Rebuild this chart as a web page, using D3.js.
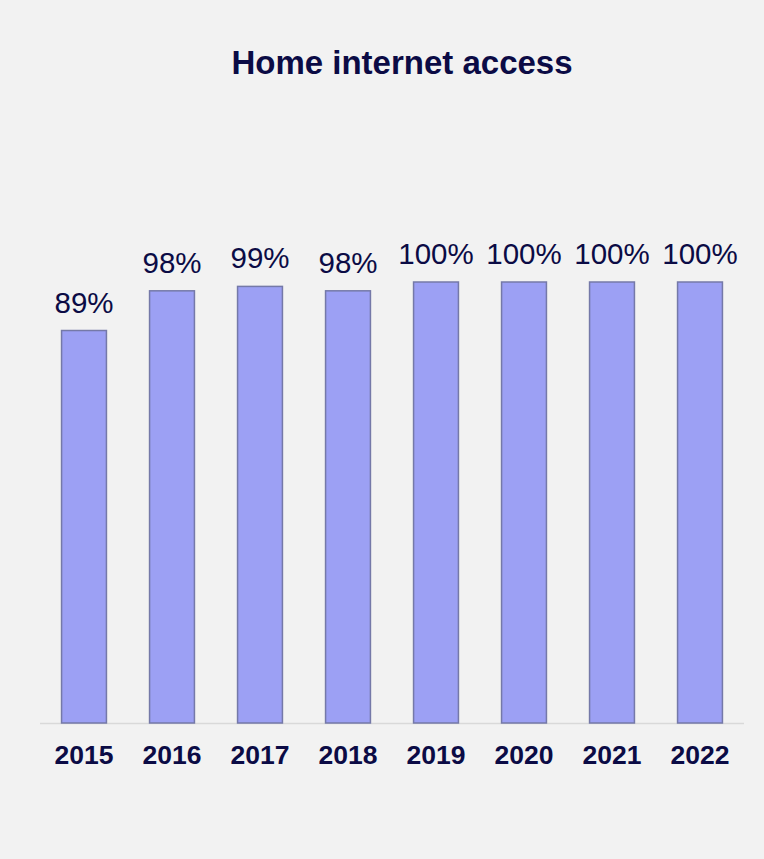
<!DOCTYPE html>
<html lang="en">
<head>
	<title>Home internet access</title>
	<script src="https://d3js.org/d3.v7.min.js" charset="utf-8"></script>
	<style>
		body { margin: 0; background: #f2f2f2; }
	</style>
</head>
<body>
	<script>
		// Chart data
		var years = ["2015", "2016", "2017", "2018", "2019", "2020", "2021", "2022"];
		var values = [89, 98, 99, 98, 100, 100, 100, 100];

		var w = 764;
		var h = 859;
		var textColor = "#0b0b45";

		var svg = d3.select("body")
			.append("svg")
			.attr("width", w)
			.attr("height", h)
			.style("display", "block")
			;

		svg.append("rect")
			.attr("width", w)
			.attr("height", h)
			.attr("fill", "#f2f2f2");

		// Scales
		var xScale = d3.scaleBand()
			.domain(years)
			.range([40, 744])
			.paddingInner(0.49)
			.paddingOuter(0.245)
			;

		var yScale = d3.scaleLinear()
			.domain([0, 100])
			.range([723, 282])
			;

		// Baseline
		svg.append("line")
			.attr("x1", 40)
			.attr("x2", 744)
			.attr("y1", yScale(0) + 0.5)
			.attr("y2", yScale(0) + 0.5)
			.attr("stroke", "#d9d9d9")
			.attr("stroke-width", 1.5);

		// Bars
		svg.selectAll("rect.bar")
			.data(values)
			.enter()
			.append("rect")
			.attr("class", "bar")
			.attr("x", function(d, i){ return xScale(years[i]); })
			.attr("y", function(d){ return yScale(d); })
			.attr("width", xScale.bandwidth())
			.attr("height", function(d){ return yScale(0) - yScale(d); })
			.attr("fill", "#9ca0f4")
			.attr("stroke", "#7579a8")
			.attr("stroke-width", 1.5)
			;

		// Value labels
		svg.selectAll("text.value")
			.data(values)
			.enter()
			.append("text")
			.attr("class", "value")
			.attr("x", function(d, i){ return xScale(years[i]) + xScale.bandwidth() / 2; })
			.attr("y", function(d){ return yScale(d) - 18; })
			.attr("text-anchor", "middle")
			.attr("font-family", "'Liberation Sans', Arial, sans-serif")
			.attr("font-size", 29.5)
			.attr("fill", textColor)
			.text(function(d){ return d + "%"; })
			;

		// Axis labels
		var xAxis = d3.axisBottom(xScale).tickSize(0).tickPadding(0);
		var gx = svg.append("g")
			.attr("transform", "translate(0," + 764 + ")")
			.call(xAxis);
		gx.select(".domain").remove();
		gx.selectAll("text")
			.attr("dy", 0)
			.attr("font-family", "'Liberation Sans', Arial, sans-serif")
			.attr("font-size", 26.5)
			.attr("font-weight", "bold")
			.attr("fill", textColor);

		// Title
		svg.append("text")
			.attr("x", w / 2 + 20)
			.attr("y", 74)
			.attr("text-anchor", "middle")
			.attr("font-family", "'Liberation Sans', Arial, sans-serif")
			.attr("font-size", 33)
			.attr("font-weight", "bold")
			.attr("fill", textColor)
			.text("Home internet access");
	</script>
</body>
</html>
